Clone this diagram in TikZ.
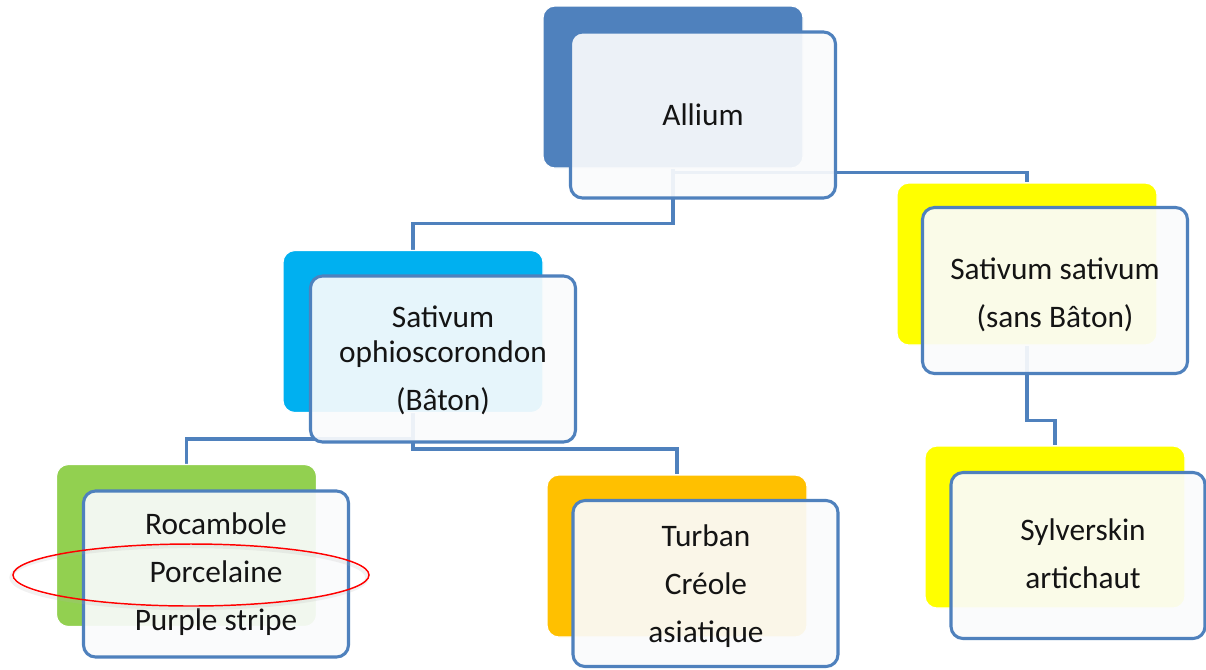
\documentclass[tikz,border=0pt]{standalone}
\usepackage{fontspec}
\setmainfont{Carlito}
\usetikzlibrary{shapes.geometric,backgrounds}
\definecolor{lineblue}{RGB}{79,129,189}
\definecolor{cblue}{RGB}{79,129,189}
\definecolor{ccyan}{RGB}{0,176,240}
\definecolor{cgreen}{RGB}{146,208,80}
\definecolor{corange}{RGB}{255,192,0}
\definecolor{cyellow}{RGB}{255,255,0}
\definecolor{frontfill}{RGB}{250,251,252}
\begin{document}
\begin{tikzpicture}[x=0.75pt,y=-0.75pt,
  backbox/.style={rectangle, rounded corners=9pt, minimum width=195pt, minimum height=121.5pt, inner sep=0pt, draw=white, line width=0.8pt},
  frontbox/.style={rectangle, rounded corners=9pt, minimum width=198.75pt, minimum height=124.5pt, inner sep=0pt, draw=lineblue, line width=2.3pt, fill=frontfill, fill opacity=0.92},
  boxtext/.style={anchor=base, align=center, font=\fontsize{23.5}{36}\selectfont, text=black!92, inner sep=0pt},
  link/.style={draw=lineblue, line width=2.6pt},
]
\useasboundingbox (0,0) rectangle (1206,669);

% back boxes
\node[backbox, fill=cblue]   (allB) at (673,87) {};
\node[backbox, fill=ccyan]   (soB)  at (413,331.5) {};
\node[backbox, fill=cyellow] (ssB)  at (1027,264) {};
\node[backbox, fill=cgreen]  (rocB) at (186.5,545.5) {};
\node[backbox, fill=corange] (turB) at (677,556) {};
\node[backbox, fill=cyellow] (sylB) at (1055,527) {};

% front boxes
\node[frontbox] (allF) at (703,115) {};
\node[frontbox] (soF)  at (443,359) {};
\node[frontbox] (ssF)  at (1055,290.5) {};
\node[frontbox] (rocF) at (216,574) {};
\node[frontbox] (turF) at (705.5,583.5) {};
\node[frontbox, minimum width=190.5pt] (sylF) at (1078,555.5) {};

% texts (anchor = baseline of the last line)
\node[boxtext] (allT) at (703,125) {Allium};
\node[boxtext] (soT)  at (443,410) {Sativum\\[-9.75pt]ophioscorondon\\(Bâton)};
\node[boxtext] (ssT)  at (1055,327) {Sativum sativum\\(sans Bâton)};
\node[boxtext] (rocT) at (216,630) {Rocambole\\Porcelaine\\Purple stripe};
\node[boxtext] (turT) at (706,642) {Turban\\Créole\\asiatique};
\node[boxtext] (sylT) at (1083,588) {Sylverskin\\artichaut};

% highlight ring
\node[ellipse, draw=black!30, line width=2.5pt, opacity=0.18, minimum width=267pt, minimum height=46.5pt, inner sep=0pt] (ringShadow) at (189,577.5) {};
\node[ellipse, draw=red, line width=1.1pt, minimum width=267pt, minimum height=46.5pt, inner sep=0pt] (ring) at (191,575) {};

% connectors
\begin{pgfonlayer}{background}
\fill[white] (0,0) rectangle (1206,669);
\draw[link] (allB.south) -- ++(0,55) -| (soB.north);
\draw[link] (allB.south) -- ++(0,4) -| (ssB.north);
\draw[link] (soB.south) -- ++(0,26) -| (rocB.north);
\draw[link] (soB.south) -- ++(0,36) -| (turB.north);
\draw[link] (ssB.south) -- ++(0,75) -| (sylB.north);
\end{pgfonlayer}
\end{tikzpicture}
\end{document}
